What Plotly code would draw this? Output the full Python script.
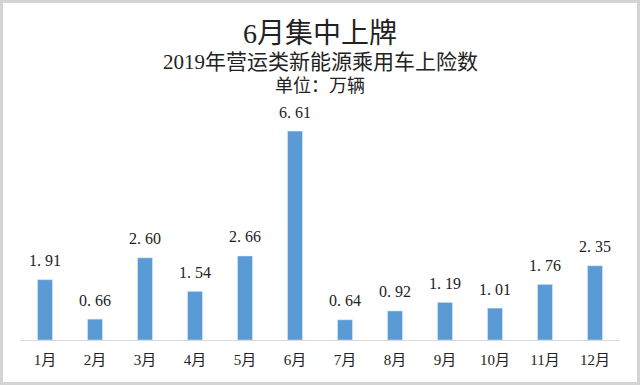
import plotly.graph_objects as go

months = ["1月", "2月", "3月", "4月", "5月", "6月", "7月", "8月", "9月", "10月", "11月", "12月"]
values = [1.91, 0.66, 2.60, 1.54, 2.66, 6.61, 0.64, 0.92, 1.19, 1.01, 1.76, 2.35]
title_text = "6月集中上牌"
subtitle_text = "2019年营运类新能源乘用车上险数"
unit_text = "单位：万辆"

FONT = "Liberation Serif, Noto Sans CJK SC, serif"
labels = [f"{v:.2f}".replace(".", ". ") for v in values]

ML, MR, MT, MB = 20, 20, 103, 45
W, H = 640, 385
pw, ph = W - ML - MR, H - MT - MB

fig = go.Figure(go.Bar(
    x=months, y=values, marker_color="#5B9BD5",
    hoverinfo="x+y",
))

def py(ypix):
    return (H - MB - ypix) / ph

annotations = [
    dict(text=title_text, x=0.5, y=py(33), xref="paper", yref="paper", showarrow=False,
         yanchor="middle", font=dict(size=28, family=FONT, color="#222222")),
    dict(text=subtitle_text, x=0.5, y=py(62), xref="paper", yref="paper", showarrow=False,
         yanchor="middle", font=dict(size=21, family=FONT, color="#222222")),
    dict(text=unit_text, x=0.5, y=py(86), xref="paper", yref="paper", showarrow=False,
         yanchor="middle", font=dict(size=18, family=FONT, color="#222222")),
]
for m, v, lab in zip(months, values, labels):
    annotations.append(dict(text=lab, x=m, y=v, xref="x", yref="y", showarrow=False,
                            yanchor="middle", yshift=19,
                            font=dict(size=16, family=FONT, color="#222222")))

fig.update_layout(
    width=W, height=H,
    margin=dict(l=ML, r=MR, t=MT, b=MB),
    paper_bgcolor="white", plot_bgcolor="white",
    bargap=0.7, showlegend=False,
    font=dict(family=FONT, color="#222222"),
    xaxis=dict(showline=True, linecolor="#d9d9d9", linewidth=1, ticks="",
               ticklabelstandoff=6,
               tickfont=dict(family=FONT, size=15, color="#222222"), showgrid=False),
    yaxis=dict(range=[0, 7.5], visible=False, showgrid=False),
    annotations=annotations,
    shapes=[dict(type="rect", xref="paper", yref="paper",
                 x0=(-ML + 1.5) / pw, x1=1 + (MR - 1.5) / pw,
                 y0=-(MB - 1.5) / ph, y1=1 + (MT - 1.5) / ph,
                 line=dict(color="#d4d4d4", width=3))],
)

fig.write_html("out.html", config={"displayModeBar": False})
with open("out.html", encoding="utf-8") as f:
    html = f.read()
html = html.replace("<head>", "<head><style>html,body{margin:0;padding:0;overflow:hidden}</style>", 1)
with open("out.html", "w", encoding="utf-8") as f:
    f.write(html)
